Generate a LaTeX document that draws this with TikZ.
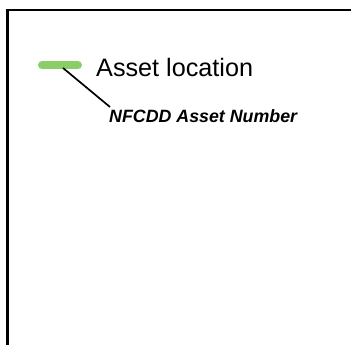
\documentclass[tikz,border=0pt]{standalone}
\usepackage{fontspec}
\setmainfont{Liberation Sans}
\definecolor{legendgreen}{RGB}{138,206,104}
\begin{document}
\begin{tikzpicture}[x=1pt,y=1pt,
  frameline/.style={draw=black,line width=2.2pt},
  swatch/.style={draw=legendgreen,line width=8pt,line cap=round},
  leader/.style={draw=black,line width=1.7pt},
  legendtext/.style={anchor=base west,inner sep=0pt,font=\fontsize{25.2}{28}\selectfont},
  tagtext/.style={anchor=base west,inner sep=0pt,font=\fontsize{17.8}{20}\selectfont\bfseries\itshape}]
  \useasboundingbox (0,0) rectangle (351,345);
  \clip (0,0) rectangle (351,345);
  % map frame, running off the right and bottom
  \draw[frameline] (7.5,-20) -- (7.5,335) -- (380,335);
  % legend entry
  \coordinate (swA) at (42,280);
  \coordinate (swB) at (78,280);
  \draw[swatch] (swA) -- (swB);
  \node[legendtext] (loc) at (96,268.3) {Asset location};
  \node[tagtext] (num) at (109,222.3) {NFCDD Asset Number};
  \coordinate (leadA) at (63,277);
  \coordinate (leadB) at (110,238);
  \draw[leader] (leadA) -- (leadB);
\end{tikzpicture}
\end{document}
